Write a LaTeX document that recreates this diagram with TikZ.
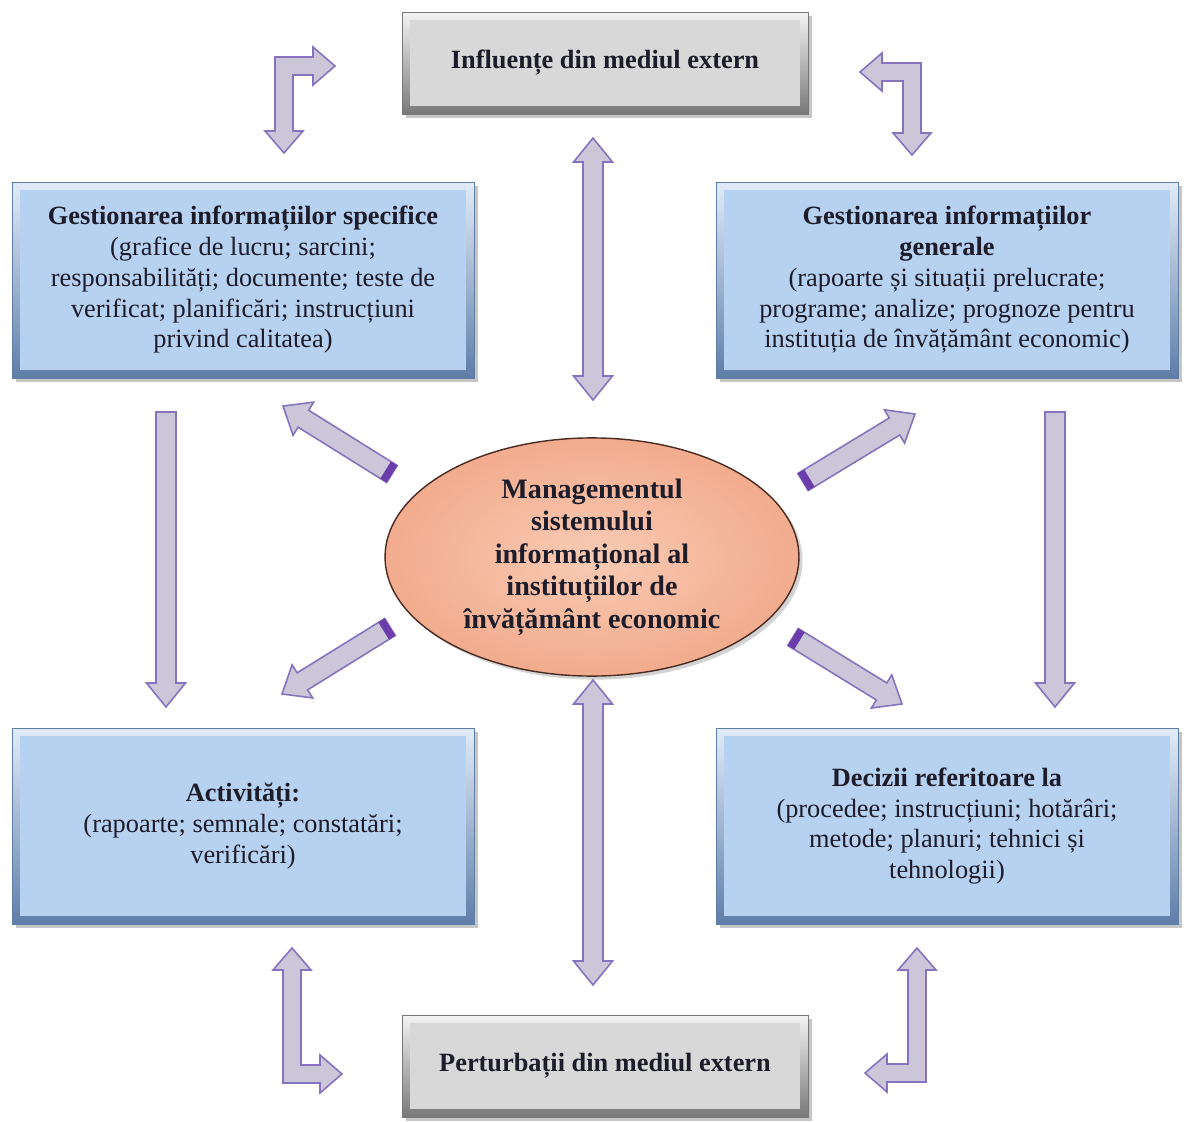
\documentclass[tikz,border=0pt]{standalone}
\usepackage{fontspec}
\setmainfont{Liberation Serif}
\usetikzlibrary{calc,shadows,shapes.geometric}

\definecolor{txtcol}{HTML}{1C1C2A}
\definecolor{bluein}{HTML}{B7D1F0}
\definecolor{bluetop}{HTML}{E2ECF8}
\definecolor{bluedge}{HTML}{5E7EA8}
\definecolor{grayin}{HTML}{D8D8D8}
\definecolor{graytop}{HTML}{F4F4F4}
\definecolor{grayout}{HTML}{787878}
\definecolor{ellfill}{HTML}{F2AB8D}
\definecolor{ellin}{HTML}{F9CBB4}
\definecolor{elledge}{HTML}{4A2C22}
\definecolor{arrfill}{HTML}{CBC6D8}
\definecolor{arredge}{HTML}{8672BE}
\definecolor{arrcap}{HTML}{6A3DAA}

% block arrow sizes
\newcommand\arrsw{0.2cm}
\newcommand\arrhw{0.39cm}
\newcommand\arrhl{0.48cm}

% one-headed block arrow, tail #2 -> tip #3
\newcommand\oneway[3][]{%
  \coordinate (nk) at ($(#3)!\arrhl!(#2)$);
  \draw[blockarr,#1] ($(#2)!\arrsw!90:(#3)$) -- ($(nk)!\arrsw!-90:(#2)$)
    -- ($(nk)!\arrhw!-90:(#2)$) -- (#3) -- ($(nk)!\arrhw!90:(#2)$)
    -- ($(nk)!\arrsw!90:(#2)$) -- ($(#2)!\arrsw!-90:(#3)$) -- cycle;
}
% dark end on the tail
\newcommand\tailcap[2]{%
  \coordinate (tc) at ($(#1)!0.15cm!(#2)$);
  \fill[arrcap] ($(#1)!\arrsw!90:(#2)$) -- ($(tc)!\arrsw!90:(#2)$)
    -- ($(tc)!\arrsw!-90:(#2)$) -- ($(#1)!\arrsw!-90:(#2)$) -- cycle;
}
% two-headed block arrow
\newcommand\twoway[2]{%
  \coordinate (nka) at ($(#1)!\arrhl!(#2)$);
  \coordinate (nkb) at ($(#2)!\arrhl!(#1)$);
  \draw[blockarr] (#1) -- ($(nka)!\arrhw!90:(#2)$) -- ($(nka)!\arrsw!90:(#2)$)
    -- ($(nkb)!\arrsw!-90:(#1)$) -- ($(nkb)!\arrhw!-90:(#1)$) -- (#2)
    -- ($(nkb)!\arrhw!90:(#1)$) -- ($(nkb)!\arrsw!90:(#1)$)
    -- ($(nka)!\arrsw!-90:(#2)$) -- ($(nka)!\arrhw!-90:(#2)$) -- cycle;
}

\begin{document}
\begin{tikzpicture}[x=0.02cm, y=-0.02cm,
  bevel/.style={path picture={\fill[#1]
    ([shift={(4.5pt,-4.5pt)}]path picture bounding box.north west) rectangle
    ([shift={(-4.5pt,4.5pt)}]path picture bounding box.south east);}},
  infobox/.style={rectangle, minimum width=9.24cm, minimum height=3.92cm,
    align=center, text=txtcol, font=\fontsize{15}{17.5}\selectfont,
    top color=bluetop, bottom color=bluedge, draw=bluedge, line width=0.5pt,
    bevel=bluein, drop shadow={shadow xshift=2.5pt, shadow yshift=-2.5pt, opacity=0.45}},
  envbox/.style={infobox, minimum width=8.12cm, minimum height=2.04cm,
    font=\fontsize{15}{17.5}\selectfont\bfseries,
    top color=graytop, bottom color=grayout, draw=grayout, bevel=grayin},
  core/.style={ellipse, minimum width=8.28cm, minimum height=4.48cm,
    inner color=ellin, outer color=ellfill, draw=elledge, line width=0.8pt,
    align=center, text=txtcol, font=\fontsize{16}{18.5}\selectfont\bfseries,
    drop shadow={shadow xshift=2pt, shadow yshift=-2pt, opacity=0.35}},
  blockarr/.style={fill=arrfill, draw=arredge, line width=0.9pt}]

  \useasboundingbox (0,0) rectangle (1184,1122);

  \node[envbox] (infl) at (605,63) {Influențe din mediul extern};
  \node[infobox] (spec) at (243,280) {\textbf{Gestionarea informațiilor specifice}\\
    (grafice de lucru; sarcini;\\responsabilități; documente; teste de\\
    verificat; planificări; instrucțiuni\\privind calitatea)};
  \node[infobox] (gen) at (947,280) {\textbf{Gestionarea informațiilor}\\
    \textbf{generale}\\(rapoarte și situații prelucrate;\\
    programe; analize; prognoze pentru\\instituția de învățământ economic)};
  \node[core] (mgmt) at (592,557) {Managementul\\sistemului\\informațional al\\
    instituțiilor de\\învățământ economic};
  \node[infobox] (act) at (243,826) {\textbf{Activități:}\\
    (rapoarte; semnale; constatări;\\verificări)};
  \node[infobox] (dec) at (947,826) {\textbf{Decizii referitoare la}\\
    (procedee; instrucțiuni; hotărâri;\\metode; planuri; tehnici și\\tehnologii)};
  \node[envbox] (pert) at (605,1066) {Perturbații din mediul extern};

  % arrow ends
  \coordinate (infl-a) at (593,138);  \coordinate (infl-b) at (593,400);
  \coordinate (pert-a) at (593,680);  \coordinate (pert-b) at (593,985);
  \coordinate (spec-a) at (166,412);  \coordinate (spec-b) at (166,707);
  \coordinate (gen-a)  at (1055,412); \coordinate (gen-b)  at (1055,707);
  \coordinate (mg-tl) at (392,474); \coordinate (to-spec) at (283,406);
  \coordinate (mg-tr) at (803,482); \coordinate (to-gen)  at (915,414);
  \coordinate (mg-bl) at (390,627); \coordinate (to-act)  at (282,694);
  \coordinate (mg-br) at (793,637); \coordinate (to-dec)  at (902,704);

  \twoway{infl-a}{infl-b}
  \twoway{pert-a}{pert-b}
  \oneway{spec-a}{spec-b}
  \oneway{gen-a}{gen-b}
  \foreach \s/\t in {mg-tl/to-spec, mg-tr/to-gen, mg-bl/to-act, mg-br/to-dec}{
    \oneway{\s}{\t}
    \tailcap{\s}{\t}
  }

  % bent arrows in the corners
  \draw[blockarr] (275,57) -- (313,57) -- (313,47) -- (335,66) -- (313,85) -- (313,75)
    -- (293,75) -- (293,131) -- (303,131) -- (284,153) -- (265,131) -- (275,131) -- cycle;
  \draw[blockarr] (921,63) -- (921,133) -- (931,133) -- (912,155) -- (893,133) -- (903,133)
    -- (903,81) -- (882,81) -- (882,91) -- (860,72) -- (882,53) -- (882,63) -- cycle;
  \draw[blockarr] (283,1083) -- (283,970) -- (273,970) -- (292,948) -- (311,970) -- (301,970)
    -- (301,1065) -- (320,1065) -- (320,1055) -- (342,1074) -- (320,1093) -- (320,1083) -- cycle;
  \draw[blockarr] (926,1082) -- (887,1082) -- (887,1092) -- (865,1073) -- (887,1054) -- (887,1064)
    -- (908,1064) -- (908,970) -- (898,970) -- (917,948) -- (936,970) -- (926,970) -- cycle;
\end{tikzpicture}
\end{document}
